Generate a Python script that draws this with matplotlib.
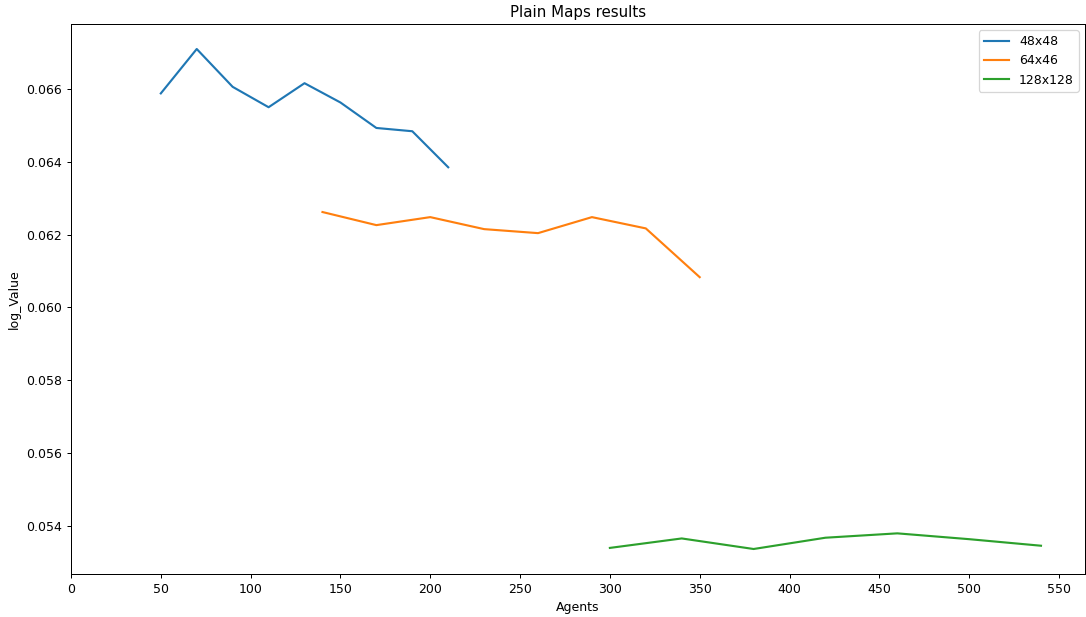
import matplotlib
matplotlib.use("Agg")
import matplotlib.pyplot as plt

# agents vs. log value for each map size
agents_48 = [50, 70, 90, 110, 130, 150, 170, 190, 210]
value_48 = [0.06588, 0.06710, 0.06606, 0.06550, 0.06616, 0.06563, 0.06493, 0.06484, 0.06385]

agents_64 = [140, 170, 200, 230, 260, 290, 320, 350]
value_64 = [0.06262, 0.06226, 0.06248, 0.06215, 0.06204, 0.06248, 0.06217, 0.06083]

agents_128 = [300, 340, 380, 420, 460, 500, 540]
value_128 = [0.05339, 0.05365, 0.05336, 0.05367, 0.05379, 0.05363, 0.05345]

DPI = 90
fig = plt.figure(figsize=(1086 / DPI, 617 / DPI), dpi=DPI)
ax = fig.add_axes([71 / 1086, 43 / 617, 1014 / 1086, 550 / 617])

ax.plot(agents_48, value_48, label="48x48", lw=1.7)
ax.plot(agents_64, value_64, label="64x46", lw=1.7)
ax.plot(agents_128, value_128, label="128x128", lw=1.7)

ax.set_xlim(left=0)
ax.set_xticks(range(0, 551, 50))
ax.set_xlabel("Agents")
ax.set_ylabel("log_Value")
ax.set_title("Plain Maps results")
ax.legend(loc="upper right")

fig.savefig("out.png", dpi=DPI)
